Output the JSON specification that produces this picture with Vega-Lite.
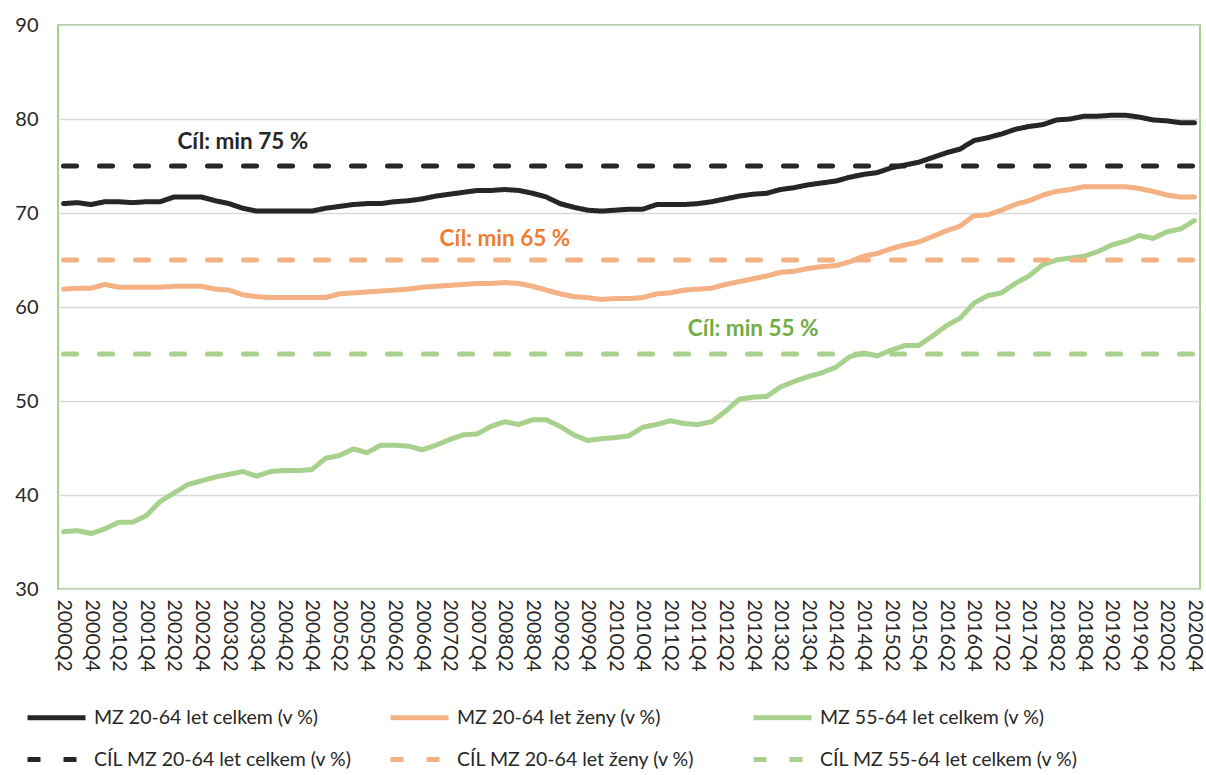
{
  "$schema": "https://vega.github.io/schema/vega-lite/v6.json",
  "width": 1142,
  "height": 564,
  "autosize": {"type": "none"},
  "padding": {"left": 58, "top": 25, "right": 6, "bottom": 186},
  "background": "white",
  "config": {
    "font": "Lato",
    "view": {"stroke": "#A9D18E", "strokeWidth": 2},
    "axis": {"labelFont": "Lato", "labelColor": "#262626"}
  },
  "datasets": {
    "main": [
      {"q":"2000Q2","a":71.0,"b":61.9,"c":36.1},
      {"q":"2000Q3","a":71.1,"b":62.0,"c":36.2},
      {"q":"2000Q4","a":70.9,"b":62.0,"c":35.9},
      {"q":"2001Q1","a":71.2,"b":62.4,"c":36.4},
      {"q":"2001Q2","a":71.2,"b":62.1,"c":37.1},
      {"q":"2001Q3","a":71.1,"b":62.1,"c":37.1},
      {"q":"2001Q4","a":71.2,"b":62.1,"c":37.8},
      {"q":"2002Q1","a":71.2,"b":62.1,"c":39.3},
      {"q":"2002Q2","a":71.7,"b":62.2,"c":40.2},
      {"q":"2002Q3","a":71.7,"b":62.2,"c":41.1},
      {"q":"2002Q4","a":71.7,"b":62.2,"c":41.5},
      {"q":"2003Q1","a":71.3,"b":61.9,"c":41.9},
      {"q":"2003Q2","a":71.0,"b":61.8,"c":42.2},
      {"q":"2003Q3","a":70.5,"b":61.3,"c":42.5},
      {"q":"2003Q4","a":70.2,"b":61.1,"c":42.0},
      {"q":"2004Q1","a":70.2,"b":61.0,"c":42.5},
      {"q":"2004Q2","a":70.2,"b":61.0,"c":42.6},
      {"q":"2004Q3","a":70.2,"b":61.0,"c":42.6},
      {"q":"2004Q4","a":70.2,"b":61.0,"c":42.7},
      {"q":"2005Q1","a":70.5,"b":61.0,"c":43.9},
      {"q":"2005Q2","a":70.7,"b":61.4,"c":44.2},
      {"q":"2005Q3","a":70.9,"b":61.5,"c":44.9},
      {"q":"2005Q4","a":71.0,"b":61.6,"c":44.5},
      {"q":"2006Q1","a":71.0,"b":61.7,"c":45.3},
      {"q":"2006Q2","a":71.2,"b":61.8,"c":45.3},
      {"q":"2006Q3","a":71.3,"b":61.9,"c":45.2},
      {"q":"2006Q4","a":71.5,"b":62.1,"c":44.8},
      {"q":"2007Q1","a":71.8,"b":62.2,"c":45.3},
      {"q":"2007Q2","a":72.0,"b":62.3,"c":45.9},
      {"q":"2007Q3","a":72.2,"b":62.4,"c":46.4},
      {"q":"2007Q4","a":72.4,"b":62.5,"c":46.5},
      {"q":"2008Q1","a":72.4,"b":62.5,"c":47.3},
      {"q":"2008Q2","a":72.5,"b":62.6,"c":47.8},
      {"q":"2008Q3","a":72.4,"b":62.5,"c":47.5},
      {"q":"2008Q4","a":72.1,"b":62.2,"c":48.0},
      {"q":"2009Q1","a":71.7,"b":61.8,"c":48.0},
      {"q":"2009Q2","a":71.0,"b":61.4,"c":47.3},
      {"q":"2009Q3","a":70.6,"b":61.1,"c":46.4},
      {"q":"2009Q4","a":70.3,"b":61.0,"c":45.8},
      {"q":"2010Q1","a":70.2,"b":60.8,"c":46.0},
      {"q":"2010Q2","a":70.3,"b":60.9,"c":46.1},
      {"q":"2010Q3","a":70.4,"b":60.9,"c":46.3},
      {"q":"2010Q4","a":70.4,"b":61.0,"c":47.2},
      {"q":"2011Q1","a":70.9,"b":61.4,"c":47.5},
      {"q":"2011Q2","a":70.9,"b":61.5,"c":47.9},
      {"q":"2011Q3","a":70.9,"b":61.8,"c":47.6},
      {"q":"2011Q4","a":71.0,"b":61.9,"c":47.5},
      {"q":"2012Q1","a":71.2,"b":62.0,"c":47.8},
      {"q":"2012Q2","a":71.5,"b":62.4,"c":48.9},
      {"q":"2012Q3","a":71.8,"b":62.7,"c":50.2},
      {"q":"2012Q4","a":72.0,"b":63.0,"c":50.4},
      {"q":"2013Q1","a":72.1,"b":63.3,"c":50.5},
      {"q":"2013Q2","a":72.5,"b":63.7,"c":51.5},
      {"q":"2013Q3","a":72.7,"b":63.8,"c":52.1},
      {"q":"2013Q4","a":73.0,"b":64.1,"c":52.6},
      {"q":"2014Q1","a":73.2,"b":64.3,"c":53.0},
      {"q":"2014Q2","a":73.4,"b":64.4,"c":53.6},
      {"q":"2014Q3","a":73.8,"b":64.8,"c":54.7},
      {"q":"2014Q4","a":74.1,"b":65.4,"c":55.1},
      {"q":"2015Q1","a":74.3,"b":65.7,"c":54.8},
      {"q":"2015Q2","a":74.8,"b":66.2,"c":55.4},
      {"q":"2015Q3","a":75.1,"b":66.6,"c":55.9},
      {"q":"2015Q4","a":75.4,"b":66.9,"c":55.9},
      {"q":"2016Q1","a":75.9,"b":67.5,"c":56.9},
      {"q":"2016Q2","a":76.4,"b":68.1,"c":58.0},
      {"q":"2016Q3","a":76.8,"b":68.6,"c":58.8},
      {"q":"2016Q4","a":77.7,"b":69.7,"c":60.4},
      {"q":"2017Q1","a":78.0,"b":69.8,"c":61.2},
      {"q":"2017Q2","a":78.4,"b":70.3,"c":61.5},
      {"q":"2017Q3","a":78.9,"b":70.9,"c":62.5},
      {"q":"2017Q4","a":79.2,"b":71.3,"c":63.3},
      {"q":"2018Q1","a":79.4,"b":71.9,"c":64.5},
      {"q":"2018Q2","a":79.9,"b":72.3,"c":65.0},
      {"q":"2018Q3","a":80.0,"b":72.5,"c":65.2},
      {"q":"2018Q4","a":80.3,"b":72.8,"c":65.4},
      {"q":"2019Q1","a":80.3,"b":72.8,"c":65.9},
      {"q":"2019Q2","a":80.4,"b":72.8,"c":66.6},
      {"q":"2019Q3","a":80.4,"b":72.8,"c":67.0},
      {"q":"2019Q4","a":80.2,"b":72.6,"c":67.6},
      {"q":"2020Q1","a":79.9,"b":72.3,"c":67.3},
      {"q":"2020Q2","a":79.8,"b":71.9,"c":68.0},
      {"q":"2020Q3","a":79.6,"b":71.7,"c":68.3},
      {"q":"2020Q4","a":79.6,"b":71.7,"c":69.2}
    ],
    "targets": [
      {"q":"2000Q2","series":"ta","v":75},
      {"q":"2020Q4","series":"ta","v":75},
      {"q":"2000Q2","series":"tb","v":65},
      {"q":"2020Q4","series":"tb","v":65},
      {"q":"2000Q2","series":"tc","v":55},
      {"q":"2020Q4","series":"tc","v":55}
    ]
  },
  "encoding": {
    "x": {
      "field": "q",
      "type": "ordinal",
      "scale": {"type": "point", "padding": 0.4},
      "axis": {
        "title": null,
        "values": ["2000Q2","2000Q4","2001Q2","2001Q4","2002Q2","2002Q4","2003Q2","2003Q4","2004Q2","2004Q4","2005Q2","2005Q4","2006Q2","2006Q4","2007Q2","2007Q4","2008Q2","2008Q4","2009Q2","2009Q4","2010Q2","2010Q4","2011Q2","2011Q4","2012Q2","2012Q4","2013Q2","2013Q4","2014Q2","2014Q4","2015Q2","2015Q4","2016Q2","2016Q4","2017Q2","2017Q4","2018Q2","2018Q4","2019Q2","2019Q4","2020Q2","2020Q4"],
        "labelAngle": 90,
        "labelFontSize": 19.5,
        "labelPadding": 10,
        "labelOverlap": false,
        "ticks": false,
        "domain": false,
        "grid": false
      }
    },
    "y": {
      "field": "v",
      "type": "quantitative",
      "scale": {"domain": [30, 90], "nice": false},
      "axis": {
        "title": null,
        "values": [30, 40, 50, 60, 70, 80, 90],
        "labelFontSize": 20,
        "labelPadding": 20,
        "tickSize": 0,
        "ticks": false,
        "domain": false,
        "gridColor": "#D9D9D9",
        "gridWidth": 1.5
      }
    }
  },
  "layer": [
    {
      "data": {"name": "main"},
      "transform": [{"fold": ["a", "b", "c"], "as": ["series", "v"]}],
      "mark": {"type": "line", "strokeWidth": 5, "strokeJoin": "round", "strokeCap": "round"},
      "encoding": {
        "color": {
          "field": "series",
          "type": "nominal",
          "scale": {
            "domain": ["a", "b", "c", "ta", "tb", "tc"],
            "range": ["#262626", "#F4B183", "#A9D18E", "#262626", "#F4B183", "#A9D18E"]
          },
          "legend": {
            "orient": "none",
            "legendX": -33,
            "legendY": 661,
            "columns": 3,
            "direction": "horizontal",
            "gridAlign": "all",
            "title": null,
            "symbolType": "stroke",
            "symbolSize": 3364,
            "symbolStrokeWidth": 5,
            "labelFontSize": 19.5,
            "labelFont": "Lato",
            "labelColor": "#262626",
            "labelLimit": 400,
            "labelOffset": 6,
            "columnPadding": 28,
            "rowPadding": -5,
            "labelExpr": "{'a': 'MZ 20-64 let celkem (v %)', 'b': 'MZ 20-64 let ženy (v %)', 'c': 'MZ 55-64 let celkem (v %)', 'ta': 'CÍL MZ 20-64 let celkem (v %)', 'tb': 'CÍL MZ 20-64 let ženy (v %)', 'tc': 'CÍL MZ 55-64 let celkem (v %)'}[datum.value]"
          }
        },
        "strokeDash": {
          "field": "series",
          "type": "nominal",
          "scale": {
            "domain": ["a", "b", "c", "ta", "tb", "tc"],
            "range": [[1, 0], [1, 0], [1, 0], [13, 23], [13, 23], [13, 23]]
          }
        }
      }
    },
    {
      "data": {"name": "targets"},
      "mark": {"type": "line", "strokeWidth": 5, "strokeCap": "round"},
      "encoding": {
        "color": {"field": "series", "type": "nominal"},
        "strokeDash": {"field": "series", "type": "nominal"}
      }
    },
    {
      "data": {"values": [{"q": "2003Q3", "v": 77.6, "t": "Cíl: min 75 %"}]},
      "mark": {"type": "text", "font": "Lato", "fontWeight": "bold", "fontSize": 22.5, "color": "#262626", "align": "center", "baseline": "middle"},
      "encoding": {"text": {"field": "t"}}
    },
    {
      "data": {"values": [{"q": "2008Q2", "v": 67.2, "t": "Cíl: min 65 %"}]},
      "mark": {"type": "text", "font": "Lato", "fontWeight": "bold", "fontSize": 22.5, "color": "#ED7D31", "align": "center", "baseline": "middle"},
      "encoding": {"text": {"field": "t"}}
    },
    {
      "data": {"values": [{"q": "2012Q4", "v": 57.7, "t": "Cíl: min 55 %"}]},
      "mark": {"type": "text", "font": "Lato", "fontWeight": "bold", "fontSize": 22.5, "color": "#70AD47", "align": "center", "baseline": "middle"},
      "encoding": {"text": {"field": "t"}}
    }
  ]
}
